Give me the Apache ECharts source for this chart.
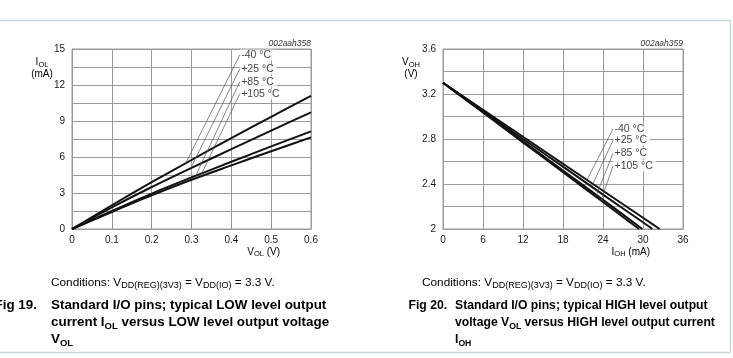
<!DOCTYPE html>
<html>
<head>
<meta charset="utf-8">
<script src="https://cdn.jsdelivr.net/npm/echarts@6/dist/echarts.min.js"></script>
<style>
html,body{margin:0;padding:0;background:#fff;}
#c{width:733px;height:358px;}
</style>
</head>
<body>
<div id="c"></div>
<script>
// ---------- data ----------
var tempNames = ['-40 °C', '+25 °C', '+85 °C', '+105 °C'];

// Fig 19: IOL (mA) vs VOL (V)
var iolM40  = [[0,0],[0.1,1.98],[0.2,3.9],[0.3,5.75],[0.4,7.58],[0.5,9.35],[0.6,11.1]];
var iolP25  = [[0,0],[0.1,1.8],[0.2,3.5],[0.3,5.1],[0.4,6.65],[0.5,8.2],[0.6,9.72]];
var iolP85  = [[0,0],[0.1,1.5],[0.2,2.95],[0.3,4.3],[0.4,5.6],[0.5,6.88],[0.6,8.14]];
var iolP105 = [[0,0],[0.1,1.42],[0.2,2.8],[0.3,4.1],[0.4,5.3],[0.5,6.48],[0.6,7.64]];
// leader lines: [label anchor, point on curve]
var leaderL = [
  [[0.421,14.5],[0.285,5.45]],
  [[0.421,13.33],[0.298,5.06]],
  [[0.421,12.25],[0.311,4.46]],
  [[0.421,11.25],[0.322,4.37]]
];

// Fig 20: VOH (V) vs IOH (mA)
var vohM40  = [[0,3.3],[6,3.06],[12,2.82],[18,2.58],[24,2.34],[30,2.10],[32.5,2.0]];
var vohP25  = [[0,3.3],[6,3.05],[12,2.8],[18,2.555],[24,2.305],[30,2.06],[31.4,2.0]];
var vohP85  = [[0,3.3],[6,3.04],[12,2.78],[18,2.52],[24,2.26],[29.9,2.0]];
var vohP105 = [[0,3.3],[6,3.035],[12,2.77],[18,2.505],[24,2.24],[29.4,2.0]];
var leaderR = [
  [[25.5,2.889],[21.6,2.436]],
  [[25.5,2.789],[22.3,2.377]],
  [[25.5,2.673],[23.0,2.30]],
  [[25.5,2.56],[23.7,2.252]]
];

// axis settings
var xTicksL = {min:0, max:0.6, interval:0.1};
var yTicksL = {min:0, max:15, interval:1.5, labelStep:3};
var xTicksR = {min:0, max:36, interval:6};
var yTicksR = {min:2, max:3.6, interval:0.2, labelStep:0.4};

// ---------- styles ----------
var FONT = 'Liberation Sans, Arial, sans-serif';
var GRID_C = '#9a9a9a';
var CAP_C = '#1f7896';

function fmt1(v){ return String(+(+v).toFixed(2)); }

function xAxis(gi, t){
  return {type:'value', gridIndex:gi, min:t.min, max:t.max, interval:t.interval,
    axisLine:{show:true, lineStyle:{color:GRID_C, width:1}},
    axisTick:{show:false},
    splitLine:{show:true, lineStyle:{color:GRID_C, width:1}},
    axisLabel:{color:'#1a1a1a', fontSize:10, fontFamily:FONT, margin:6, formatter:fmt1}
  };
}
function yAxis(gi, t){
  return {type:'value', gridIndex:gi, min:t.min, max:t.max, interval:t.interval,
    axisLine:{show:true, lineStyle:{color:GRID_C, width:1}},
    axisTick:{show:false},
    splitLine:{show:true, lineStyle:{color:GRID_C, width:1}},
    axisLabel:{color:'#1a1a1a', fontSize:10, fontFamily:FONT, margin:7,
      formatter:function(v){
        var r = v / t.labelStep;
        return Math.abs(r - Math.round(r)) < 1e-6 ? fmt1(v) : '';
      }}
  };
}
function curve(gi, data){
  return {type:'line', xAxisIndex:gi, yAxisIndex:gi, data:data, showSymbol:false, smooth:0.3,
    lineStyle:{color:'#111', width:2}, silent:true, z:5, animation:false};
}
function leader(gi, pts){
  return {type:'line', xAxisIndex:gi, yAxisIndex:gi, showSymbol:false, silent:true, z:6, animation:false,
    lineStyle:{color:'#555', width:0.7}, data:[pts[0], pts[1]]};
}
function tempLabels(gi, leaders){
  return {type:'scatter', xAxisIndex:gi, yAxisIndex:gi, silent:true, z:7, animation:false,
    symbol:'circle', symbolSize:1, itemStyle:{color:'rgba(0,0,0,0)'},
    data: leaders.map(function(l, k){ return {value:l[0], name:tempNames[k]}; }),
    label:{show:true, position:'right', distance:0, formatter:'{b}',
      color:'#111', fontSize:10.5, fontFamily:FONT, backgroundColor:'#fff', padding:[0,3,0,1]}
  };
}

var series = [
  curve(0, iolM40), curve(0, iolP25), curve(0, iolP85), curve(0, iolP105),
  curve(1, vohM40), curve(1, vohP25), curve(1, vohP85), curve(1, vohP105)
];
for (var i=0;i<4;i++){ series.push(leader(0, leaderL[i])); }
for (var j=0;j<4;j++){ series.push(leader(1, leaderR[j])); }
series.push(tempLabels(0, leaderL));
series.push(tempLabels(1, leaderR));

// rich styles
var axisRich = {
  m:{fontSize:10, fontFamily:FONT, color:'#1a1a1a', lineHeight:12},
  s:{fontSize:7.5, fontFamily:FONT, color:'#1a1a1a', lineHeight:7, verticalAlign:'bottom'}
};
var condRich = {
  c:{fontSize:11.8, fontFamily:FONT, color:'#1a1a1a', lineHeight:14},
  s:{fontSize:9, fontFamily:FONT, color:'#1a1a1a', lineHeight:6, verticalAlign:'bottom'}
};
function capRich(fs){
  return {
    b:{fontSize:fs, fontWeight:'bold', fontFamily:FONT, color:CAP_C, lineHeight:17},
    s:{fontSize:fs*0.71, fontWeight:'bold', fontFamily:FONT, color:CAP_C, lineHeight:10, verticalAlign:'bottom'}
  };
}
function txt(x, y, text, rich, align){
  return {type:'text', x:x, y:y, z:10, silent:true,
    style:{text:text, rich:rich, align:align||'left', verticalAlign:'top'}};
}

var BORDER = '#c8d8de';
var graphic = [
  {type:'line', shape:{x1:0,y1:20.5,x2:730.5,y2:20.5}, style:{stroke:BORDER, lineWidth:1.5}},
  {type:'line', shape:{x1:730.5,y1:20.5,x2:730.5,y2:352.5}, style:{stroke:BORDER, lineWidth:1.5}},
  {type:'line', shape:{x1:0,y1:352.5,x2:730.5,y2:352.5}, style:{stroke:BORDER, lineWidth:1.5}},
  // chart ids
  {type:'text', x:311, y:39, style:{text:'002aah358', fontSize:8.5, fontStyle:'italic', fontFamily:FONT, fill:'#333', align:'right', verticalAlign:'top'}},
  {type:'text', x:683, y:39, style:{text:'002aah359', fontSize:8.5, fontStyle:'italic', fontFamily:FONT, fill:'#333', align:'right', verticalAlign:'top'}},
  // axis names
  txt(42, 56.5, '{m|I}{s|OL}\n{m|(mA)}', axisRich, 'center'),
  txt(411, 56.5, '{m|V}{s|OH}\n{m|(V)}', axisRich, 'center'),
  txt(280, 246, '{m|V}{s|OL}{m| (V)}', axisRich, 'right'),
  txt(650, 246, '{m|I}{s|OH}{m| (mA)}', axisRich, 'right'),
  // conditions
  txt(51, 276, '{c|Conditions: V}{s|DD(REG)(3V3)}{c| = V}{s|DD(IO)}{c| = 3.3 V.}', condRich),
  txt(422, 276, '{c|Conditions: V}{s|DD(REG)(3V3)}{c| = V}{s|DD(IO)}{c| = 3.3 V.}', condRich),
  // captions
  txt(-5.5, 297, '{b|Fig 19.}', capRich(13.4)),
  txt(51, 297, '{b|Standard I/O pins; typical LOW level output}\n{b|current I}{s|OL}{b| versus LOW level output voltage}\n{b|V}{s|OL}', capRich(13.4)),
  txt(408.5, 297, '{b|Fig 20.}', capRich(12.2)),
  txt(455, 297, '{b|Standard I/O pins; typical HIGH level output}\n{b|voltage V}{s|OL}{b| versus HIGH level output current}\n{b|I}{s|OH}', capRich(12.2))
];

var chart = echarts.init(document.getElementById('c'), null, {renderer:'canvas'});
chart.setOption({
  animation:false,
  backgroundColor:'#fff',
  grid:[
    {left:72, top:49, width:239, height:180, show:true, borderColor:GRID_C, borderWidth:1},
    {left:443, top:49, width:240, height:180, show:true, borderColor:GRID_C, borderWidth:1}
  ],
  xAxis:[xAxis(0, xTicksL), xAxis(1, xTicksR)],
  yAxis:[yAxis(0, yTicksL), yAxis(1, yTicksR)],
  series:series,
  graphic:graphic
});
</script>
</body>
</html>
